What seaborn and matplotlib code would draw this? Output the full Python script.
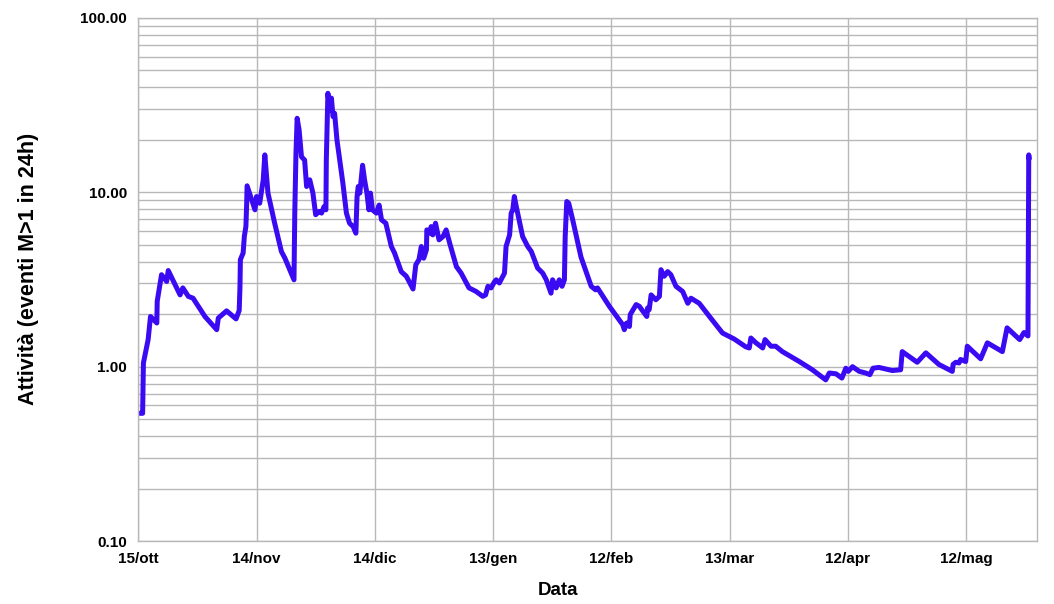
import numpy as np
import pandas as pd
import seaborn as sns
import matplotlib.pyplot as plt
from matplotlib.ticker import LogLocator, FixedLocator, NullFormatter

sns.set_style("white")
plt.rcParams['font.family'] = ['Liberation Sans', 'DejaVu Sans']
plt.rcParams['text.color'] = 'black'
plt.rcParams['axes.labelcolor'] = 'black'

# giorni dal 15/ott e attività (eventi M>1 in 24h)
giorni = [0.4, 1.1, 1.3, 2.5, 3.1, 4.7, 4.8, 5.9, 7.2, 7.6, 10.6, 11.3, 12.7, 13.9, 16.9,
          19.9, 20.3, 22.4, 24.8, 25.6, 25.8, 25.9, 26.6, 26.9, 27.3, 27.5, 27.6, 29.6, 30.0,
          30.8, 31.7, 32.1, 32.9, 34.6, 36.3, 37.2, 39.5, 39.7, 40.0, 40.3, 40.8, 41.4, 42.2,
          42.7, 43.5, 44.3, 45.0, 45.9, 46.5, 47.1, 47.6, 47.7, 48.1, 48.6, 49.0, 49.4, 49.8,
          50.4, 51.1, 51.9, 52.8, 53.6, 54.5, 55.2, 55.5, 55.8, 56.2, 56.9, 57.4, 58.0, 58.5,
          58.9, 59.4, 60.4, 61.1, 61.7, 62.8, 64.2, 65.0, 66.7, 68.0, 69.7, 70.4, 71.2, 71.8,
          72.4, 73.1, 73.2, 73.9, 74.3, 74.7, 75.4, 76.3, 77.3, 78.1, 79.0, 80.7, 81.9, 83.9,
          85.7, 87.4, 88.1, 88.7, 89.5, 90.4, 90.8, 91.6, 92.9, 93.3, 94.2, 94.6, 95.0, 95.4,
          95.9, 97.5, 98.8, 99.7, 100.5, 101.3, 102.6, 103.5, 104.7, 105.1, 106.0, 106.8,
          107.5, 108.1, 108.3, 108.7, 109.2, 110.2, 112.3, 114.9, 116.0, 116.5, 119.5, 122.9,
          123.3, 123.9, 124.6, 124.8, 126.3, 127.1, 129.0, 129.2, 129.6, 130.1, 131.3, 132.2,
          132.6, 133.4, 134.3, 135.1, 136.4, 138.1, 139.4, 140.2, 142.3, 144.9, 148.2, 149.9,
          151.2, 154.1, 155.0, 155.4, 156.7, 158.4, 159.0, 160.5, 161.7, 163.4, 167.7, 171.0,
          174.4, 175.3, 177.0, 178.5, 179.5, 180.1, 181.2, 182.9, 184.5, 185.6, 186.4, 187.9,
          191.3, 193.4, 193.8, 197.6, 199.8, 203.1, 206.5, 206.7, 207.4, 208.2, 208.6, 209.9,
          210.3, 213.7, 215.4, 219.2, 220.4, 223.6, 224.7, 225.7, 225.9, 226.0]
attivita = [0.54, 0.54, 1.05, 1.43, 1.94, 1.78, 2.37, 3.37, 3.08, 3.56, 2.58, 2.83, 2.53, 2.47, 1.94,
            1.63, 1.90, 2.09, 1.88, 2.10, 2.89, 4.11, 4.49, 5.58, 6.37, 8.66, 10.9, 7.94, 9.46,
            8.66, 11.8, 16.4, 9.9, 6.65, 4.58, 4.19, 3.15, 7.6, 16.7, 26.6, 22.8, 16.0, 15.3,
            10.8, 11.8, 9.9, 7.44, 7.77, 7.6, 8.27, 7.94, 15.3, 37.0, 29.7, 34.7, 27.2, 28.4,
            20.0, 15.3, 11.3, 7.6, 6.65, 6.36, 5.83, 9.46, 10.8, 9.9, 14.3, 11.8, 9.9, 7.94,
            9.9, 7.94, 7.6, 8.45, 6.96, 6.65, 4.89, 4.49, 3.51, 3.30, 2.79, 3.84, 4.11, 4.89,
            4.19, 4.68, 6.09, 5.83, 6.36, 5.70, 6.65, 5.34, 5.58, 6.09, 5.11, 3.75, 3.44, 2.83,
            2.70, 2.53, 2.58, 2.89, 2.83, 3.08, 3.15, 3.02, 3.44, 4.89, 5.70, 7.6, 7.94, 9.46,
            8.27, 5.58, 4.89, 4.58, 4.11, 3.68, 3.44, 3.15, 2.64, 3.15, 2.83, 3.15,
            2.89, 3.15, 5.58, 8.86, 8.66, 6.96, 4.26, 2.89, 2.76, 2.83, 2.22, 1.74,
            1.63, 1.78, 1.70, 1.99, 2.27, 2.22, 1.94, 2.17, 2.12, 2.58, 2.42, 2.53,
            3.6, 3.30, 3.51, 3.37, 2.89, 2.70, 2.31, 2.47, 2.31, 1.94, 1.56, 1.49,
            1.44, 1.30, 1.28, 1.46, 1.37, 1.28, 1.43, 1.31, 1.31, 1.22, 1.07, 0.96,
            0.84, 0.92, 0.91, 0.86, 0.98, 0.94, 1.00, 0.94, 0.92, 0.90, 0.98, 0.99,
            0.95, 0.96, 1.22, 1.06, 1.20, 1.03, 0.94, 1.03, 1.06, 1.05, 1.10, 1.07,
            1.31, 1.11, 1.37, 1.22, 1.67, 1.43, 1.57, 1.50, 16.4, 15.6]

tick_giorni = [0, 30, 60, 90, 120, 150, 180, 210]
tick_date = ['15/ott', '14/nov', '14/dic', '13/gen', '12/feb', '13/mar', '12/apr', '12/mag']

df = pd.DataFrame({'giorno': giorni, 'attivita': attivita})

fig = plt.figure(figsize=(10.54, 6.04), dpi=100)
ax = fig.add_axes([0.1312, 0.1043, 0.8527, 0.8659])

sns.lineplot(x='giorno', y='attivita', data=df, sort=False, color='#3a0af2',
             linewidth=3.6, ax=ax)

ax.set_yscale('log')
ax.set_ylim(0.1, 100)
ax.set_xlim(0, 228)

ax.yaxis.set_major_locator(FixedLocator([0.1, 1, 10, 100]))
ax.yaxis.set_minor_locator(LogLocator(base=10, subs=np.arange(2, 10)))
ax.yaxis.set_minor_formatter(NullFormatter())
ax.set_yticklabels(['0.10', '1.00', '10.00', '100.00'], fontweight='bold', fontsize=11)
ax.set_xticks(tick_giorni)
ax.set_xticklabels(tick_date, fontweight='bold', fontsize=11)

grigio = '#b8b8b8'
ax.grid(True, which='major', color=grigio, linewidth=1)
ax.grid(True, which='minor', axis='y', color=grigio, linewidth=1)
ax.tick_params(axis='both', which='major', length=5, color=grigio, width=1, pad=3,
               labelcolor='black')
ax.tick_params(axis='y', which='minor', length=0)
for s in ax.spines.values():
    s.set_color(grigio)
    s.set_linewidth(1)

ax.set_xlabel('Data', fontweight='bold', fontsize=13.5)
ax.set_ylabel('Attività (eventi M>1 in 24h)', fontweight='bold', fontsize=15.5)
ax.xaxis.set_label_coords(0.4665, -0.094)
ax.yaxis.set_label_coords(-0.1227, 0.521)
ax.xaxis.label.set_va('center')
ax.yaxis.label.set_va('center')

fig.savefig('out.png', dpi=100)
